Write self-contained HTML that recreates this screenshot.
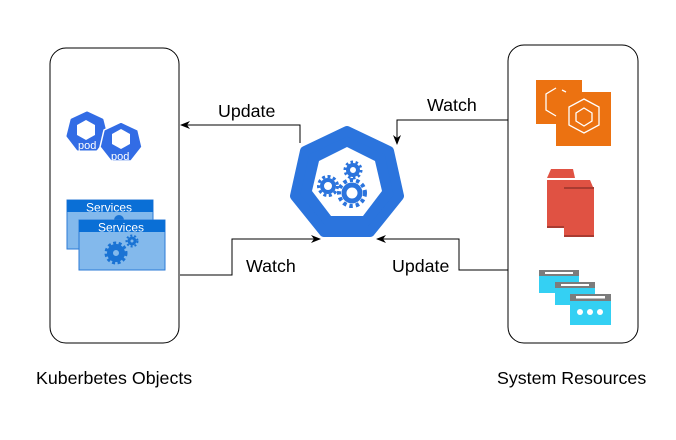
<!DOCTYPE html>
<html><head><meta charset="utf-8"><style>
html,body{margin:0;padding:0;background:#fff;}
svg{display:block;font-family:"Liberation Sans",sans-serif;}
</style></head><body>
<svg width="676" height="440" viewBox="0 0 676 440">
<defs>
<marker id="ar" markerWidth="10" markerHeight="10" refX="9" refY="5" orient="auto" markerUnits="userSpaceOnUse">
<path d="M0,1 L10,5 L0,9 L3,5 Z" fill="#000"/></marker>
</defs>
<rect x="50" y="48" width="129" height="295" rx="16" fill="#fff" stroke="#000" stroke-width="1"/>
<rect x="508" y="45" width="130" height="298" rx="16" fill="#fff" stroke="#000" stroke-width="1"/>

<polyline points="300,143 300,125 181,125" fill="none" stroke="#000" marker-end="url(#ar)"/>
<polyline points="508,120 397,120 397,144" fill="none" stroke="#000" marker-end="url(#ar)"/>
<polyline points="180,275 232,275 232,239 320,239" fill="none" stroke="#000" marker-end="url(#ar)"/>
<polyline points="508,270 459,270 459,239 377,239" fill="none" stroke="#000" marker-end="url(#ar)"/>

<g font-size="17.8" fill="#000">
<text x="218" y="117">Update</text>
<text x="427" y="111">Watch</text>
<text x="246" y="272">Watch</text>
<text x="392" y="272">Update</text>
<text x="36" y="384">Kuberbetes Objects</text>
<text x="497" y="384">System Resources</text>
</g>

<polygon points="347,131 389,151 399,196 370,232 324,232 295,196 305,151" fill="#2b74dd" stroke="#2b74dd" stroke-width="10" stroke-linejoin="round"/>
<polygon points="347,147 375,161 382,191 363,216 331,216 312,191 319,161" fill="#fff"/>
<g fill="none" stroke="#2b74dd">
<circle cx="353" cy="170" r="5" stroke-width="4"/>
<circle cx="353" cy="170" r="8" stroke-width="3" stroke-dasharray="2.5 2.5"/>
<circle cx="328" cy="186" r="6" stroke-width="4"/>
<circle cx="328" cy="186" r="9.5" stroke-width="3" stroke-dasharray="3 2.5"/>
<circle cx="352" cy="193" r="8" stroke-width="5"/>
<circle cx="352" cy="193" r="13" stroke-width="4" stroke-dasharray="3.5 3"/>
</g>

<!-- pods -->
<g>
<polygon points="87,113 102,120 106,136 96,149 78,149 68,136 72,120" fill="#326ce5" stroke="#326ce5" stroke-width="3" stroke-linejoin="round"/>
<polygon points="86,120 95,125 95,135 86,140 77,135 77,125" fill="#fff"/>
<text x="78" y="149" font-size="11" fill="#fff">pod</text>
<polygon points="121,122 138,130 142,147 131,161 111,161 100,147 104,130" fill="#326ce5" stroke="#fff" stroke-width="1.5" stroke-linejoin="round"/>
<polygon points="121,129 130,134 130,144 121,149 112,144 112,134" fill="#fff"/>
<text x="111" y="160" font-size="11" fill="#fff">pod</text>
</g>

<!-- services -->
<rect x="67" y="200" width="86" height="49" fill="#83b9ec" stroke="#2b7ad6"/>
<rect x="67" y="200" width="86" height="12" fill="#0a6fd6"/>
<text x="86" y="211.5" font-size="12" fill="#fff">Services</text>
<circle cx="119" cy="220" r="5" fill="#1a73d4"/>
<rect x="79" y="220" width="86" height="50" fill="#83b9ec" stroke="#2b7ad6"/>
<rect x="79" y="220" width="86" height="12" fill="#0a6fd6"/>
<text x="98" y="231.5" font-size="12" fill="#fff">Services</text>
<circle cx="116" cy="253" r="6" fill="none" stroke="#1a73d4" stroke-width="6"/>
<circle cx="116" cy="253" r="10" fill="none" stroke="#1a73d4" stroke-width="3" stroke-dasharray="3 2.5"/>
<circle cx="132" cy="241" r="3" fill="none" stroke="#1a73d4" stroke-width="3"/>
<circle cx="132" cy="241" r="5.5" fill="none" stroke="#1a73d4" stroke-width="2" stroke-dasharray="2 2"/>

<!-- ECS orange -->
<rect x="536" y="80" width="46" height="44" fill="#ec7211"/>
<rect x="556" y="92" width="55" height="54" fill="#ec7211"/>
<g fill="none" stroke="#fff" stroke-width="1.3">
<polyline points="556,88 546,94 546,110 556,116"/>
<polyline points="562,90 566,92"/>
<polygon points="584,99 599,107 599,125 584,133 569,125 569,107"/>
<polygon points="584,108 592,113 592,121 584,126 576,121 576,113"/>
</g>

<!-- red -->
<polygon points="551,169 573,169 575,178 547,178" fill="#e05243"/>
<rect x="547" y="180" width="33" height="48" fill="#e05243"/>
<rect x="547" y="226" width="33" height="2" fill="#a93b31"/>
<polygon points="566,180 590,180 593,187 564,187" fill="#e05243"/>
<rect x="564" y="189" width="30" height="48" fill="#e05243"/>
<rect x="564" y="187" width="30" height="2" fill="#a93b31"/>
<rect x="564" y="235" width="30" height="2" fill="#a93b31"/>

<!-- cyan windows -->
<rect x="539" y="270" width="40" height="23" fill="#34d0f3"/>
<rect x="539" y="270" width="40" height="6" fill="#7c7c7c"/>
<rect x="545" y="272" width="28" height="2" fill="#fff"/>
<rect x="555" y="282" width="40" height="23" fill="#34d0f3"/>
<rect x="555" y="282" width="40" height="6" fill="#7c7c7c"/>
<rect x="561" y="284" width="28" height="2" fill="#fff"/>
<rect x="570" y="294" width="41" height="31" fill="#34d0f3"/>
<rect x="570" y="294" width="41" height="7" fill="#7c7c7c"/>
<rect x="576" y="296" width="29" height="2.5" fill="#fff"/>
<circle cx="580" cy="312" r="3" fill="#fff"/>
<circle cx="590" cy="312" r="3" fill="#fff"/>
<circle cx="600" cy="312" r="3" fill="#fff"/>
</svg>
</body></html>
